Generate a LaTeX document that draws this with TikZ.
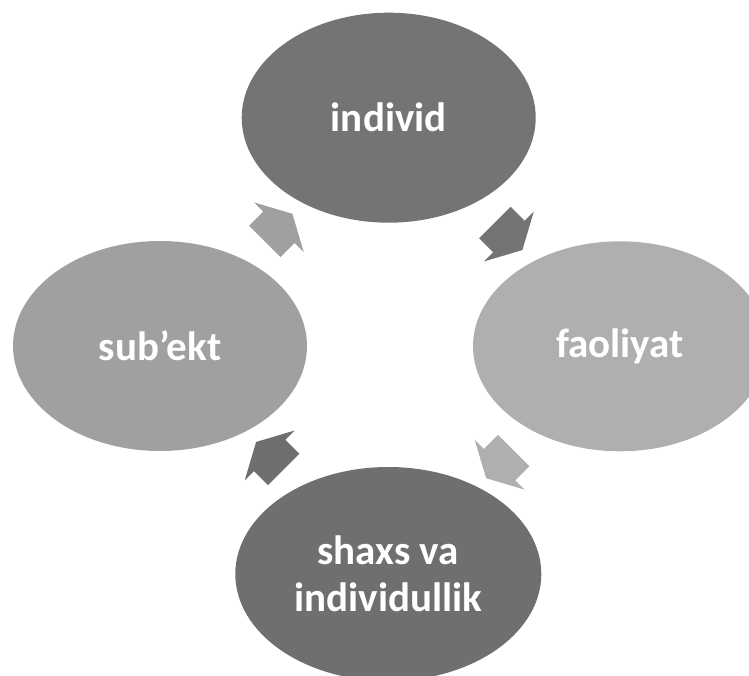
\documentclass[tikz,border=0pt]{standalone}
\usepackage{fontspec}
\setmainfont{Carlito}
\usetikzlibrary{shapes.geometric,shapes.arrows,calc}

\definecolor{darkA}{HTML}{747474}
\definecolor{darkB}{HTML}{6F6F6F}
\definecolor{lightA}{HTML}{A0A0A0}
\definecolor{lightB}{HTML}{AFAFAF}

\begin{document}
\begin{tikzpicture}[x=1pt, y=1pt,
	e/.style={ellipse, minimum width=294pt, minimum height=210pt, inner sep=0pt, text=white, align=center, font=\fontsize{41}{47}\selectfont\bfseries},
	a/.style={single arrow, minimum height=39pt, inner xsep=0pt, inner ysep=22pt, outer sep=0pt, single arrow head extend=13pt, single arrow tip angle=123}]
	\useasboundingbox (0,0) rectangle (749,675);

	\node[e, fill=darkA] (ind) at (388.7,557.3) {individ};
	\node[e, fill=lightB] (fao) at (620,328.7) {faoliyat};
	\node[e, fill=darkB, minimum width=306pt, minimum height=214pt] (shx) at (388.3,101) {shaxs va\\individullik};
	\node[e, fill=lightA] (sub) at (160,329) {sub’ekt};

	\node[a, fill=lightA, rotate=45] at ($(sub)!0.5!(ind)$) {};
	\node[a, fill=darkA, rotate=-45] at ($(ind)!0.5!(fao)$) {};
	\node[a, fill=lightB, rotate=-135] at ($(fao)!0.5!(shx)$) {};
	\node[a, fill=darkB, rotate=135] at ($(shx)!0.5!(sub)$) {};
\end{tikzpicture}
\end{document}
